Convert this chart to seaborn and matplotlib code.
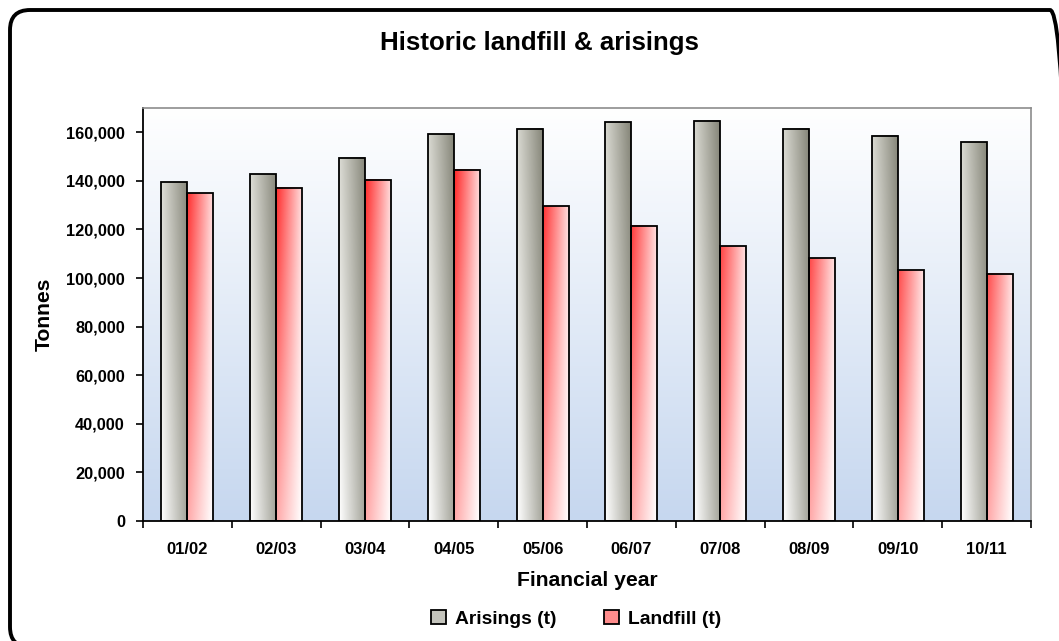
import numpy as np
import pandas as pd
import matplotlib
matplotlib.use('Agg')
import matplotlib.pyplot as plt
from matplotlib.patches import FancyBboxPatch
from matplotlib.ticker import FuncFormatter, FixedLocator
import seaborn as sns

# data
years = ['01/02', '02/03', '03/04', '04/05', '05/06', '06/07', '07/08', '08/09', '09/10', '10/11']
arisings = [139500, 142800, 149600, 159200, 161400, 164100, 164700, 161400, 158500, 155900]
landfill = [135000, 137200, 140500, 144500, 129500, 121600, 113100, 108200, 103200, 101700]
series_names = ['Arisings (t)', 'Landfill (t)']

df = pd.DataFrame({
    'year': years * 2,
    'tonnes': arisings + landfill,
    'series': [series_names[0]] * len(years) + [series_names[1]] * len(years),
})

sns.set_style('ticks')
plt.rcParams['font.family'] = ['Liberation Sans', 'DejaVu Sans']
plt.rcParams['font.weight'] = 'bold'
for k in ['text.color', 'axes.labelcolor', 'xtick.color', 'ytick.color']:
    plt.rcParams[k] = 'black'

fig = plt.figure(figsize=(10.59, 6.41), dpi=100)
ax = fig.add_axes([143 / 1059, 1 - 521 / 641, 888 / 1059, 413 / 641])

ymax = 170000
sns.barplot(data=df, x='year', y='tonnes', hue='series', order=years,
            palette=['#c4c4bc', '#ff8c8c'], width=0.585, gap=0,
            saturation=1, edgecolor='black', linewidth=1.3, ax=ax, zorder=3)

# corner colours (top-left, top-right, bottom-left, bottom-right) for the bar fills
corners = {
    0: ['#d6d6ce', '#858578', '#ffffff', '#a6a69c'],
    1: ['#ff1010', '#ffd2d2', '#ffa8a8', '#ffffff'],
}

def corner_grid(cols):
    return np.array([matplotlib.colors.to_rgb(c) for c in cols])

for i, cont in enumerate(ax.containers):
    c = corner_grid(corners[i])
    for bar in cont:
        x0, y0 = bar.get_x(), bar.get_y()
        w, h = bar.get_width(), bar.get_height()
        tx = np.linspace(0, 1, 40)[None, :, None]
        # vertical position relative to full axis height
        ty = np.linspace(y0 + h, y0, 60)[:, None, None] / ymax
        top = c[0] * (1 - tx) + c[1] * tx
        bot = c[2] * (1 - tx) + c[3] * tx
        img = top * ty + bot * (1 - ty)
        ax.imshow(img, extent=[x0, x0 + w, y0, y0 + h], aspect='auto',
                  zorder=2, interpolation='bilinear')
        bar.set_facecolor('none')

# plot background gradient (white at top to pale blue at bottom)
bg_top = np.array(matplotlib.colors.to_rgb('#ffffff'))
bg_bot = np.array(matplotlib.colors.to_rgb('#c6d7ef'))
t = np.linspace(0, 1, 200)[:, None, None]
bg = bg_top * (1 - t) + bg_bot * t
ax.imshow(bg, extent=[-0.5, len(years) - 0.5, 0, ymax], aspect='auto', zorder=0)

ax.set_xlim(-0.5, len(years) - 0.5)
ax.set_ylim(0, ymax)

ax.yaxis.set_major_locator(FixedLocator(np.arange(0, 160001, 20000)))
ax.yaxis.set_major_formatter(FuncFormatter(lambda v, p: f'{v:,.0f}'))
ax.set_xticks(np.arange(-0.5, len(years), 1), minor=False)
ax.set_xticklabels([])
ax.set_xticks(np.arange(len(years)), minor=True)
ax.set_xticklabels(years, minor=True)
ax.tick_params(axis='x', which='minor', length=0, pad=15, labelsize=12)
ax.tick_params(axis='x', which='major', length=5, width=1.2, color='black')
ax.tick_params(axis='y', length=5, width=1.2, color='black', labelsize=11.8, pad=8)
for lbl in ax.get_xticklabels(minor=True) + ax.get_yticklabels():
    lbl.set_fontweight('bold')

for s in ['left', 'bottom']:
    ax.spines[s].set_color('black')
    ax.spines[s].set_linewidth(1.3)
for s in ['top', 'right']:
    ax.spines[s].set_visible(True)
    ax.spines[s].set_color('#8c8c8c')
    ax.spines[s].set_linewidth(1.2)

ax.set_xlabel('Financial year', fontsize=15.2, fontweight='bold', labelpad=10)
ax.set_ylabel('Tonnes', fontsize=15.2, fontweight='bold', labelpad=9)

handles, labels = ax.get_legend_handles_labels()
ax.get_legend().remove()
fig.legend(handles, labels, loc='center', bbox_to_anchor=(0.544, 1 - 619 / 641),
           ncol=2, frameon=False, fontsize=13.9, handlelength=0.75, handleheight=0.75,
           columnspacing=2.5, handletextpad=0.45)

fig.text(539 / 1059, 1 - 43 / 641, 'Historic landfill & arisings', ha='center', va='center',
         fontsize=18.6, fontweight='bold')

# rounded outer frame (runs off the right and bottom edges like the original)
border = FancyBboxPatch((0.10, -0.06), 10.60, 6.37,
                        boxstyle='round,pad=0,rounding_size=0.2',
                        transform=fig.dpi_scale_trans, facecolor='none',
                        edgecolor='black', linewidth=2.8, zorder=10)
fig.patches.append(border)

fig.savefig('out.png', dpi=100, facecolor='white')
